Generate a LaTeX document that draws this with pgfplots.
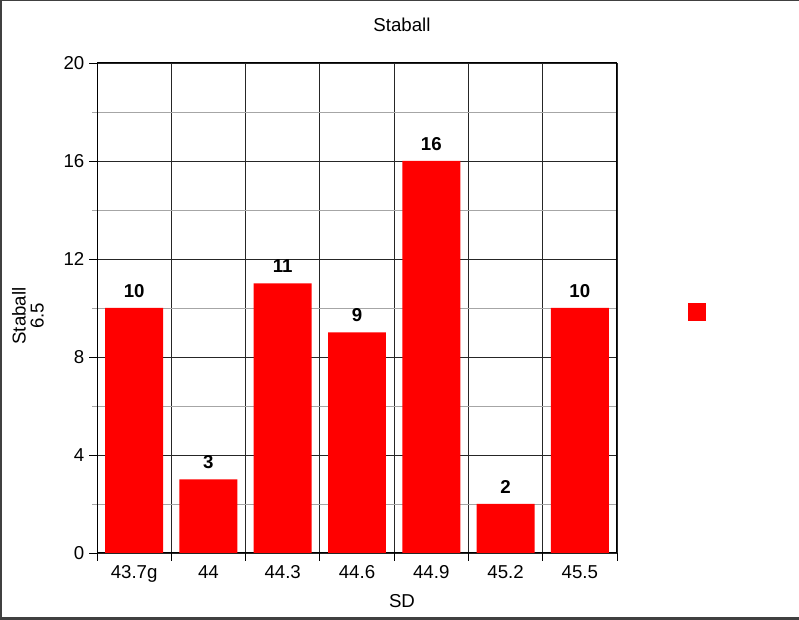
\documentclass[border=0pt]{standalone}
\usepackage{pgfplots}
\pgfplotsset{compat=1.18}
\usepackage{fontspec}
\setmainfont{Liberation Sans}
\definecolor{framegray}{HTML}{404040}
\begin{document}
\begin{tikzpicture}
\path[use as bounding box] (0,0) rectangle (599.25pt,465pt);
\fill[framegray] (0,0) rectangle (1.5pt,465pt);
\fill[framegray] (0,464.25pt) rectangle (599.25pt,465pt);
\fill[framegray] (0,0) rectangle (599.25pt,2.25pt);
\begin{axis}[
  at={(72.75pt,50.25pt)}, anchor=south west,
  width=390pt, height=367.5pt, scale only axis,
  xmin=-0.5, xmax=6.5, ymin=0, ymax=20,
  xtick={-0.5,0.5,1.5,2.5,3.5,4.5,5.5,6.5},
  x tick label as interval,
  xticklabels={43.7g,44,44.3,44.6,44.9,45.2,45.5},
  ytick={0,4,8,12,16,20}, minor y tick num=1,
  xtick pos=lower, ytick pos=left,
  tick align=outside, major tick length=6pt, minor tick length=3.75pt,
  xmajorgrids, ymajorgrids, yminorgrids,
  major grid style={black!85, line width=0.6pt},
  minor grid style={black!35, line width=0.6pt},
  axis line style={black, line width=0.75pt},
  major tick style={black, line width=0.6pt},
  minor tick style={black!35, line width=0.6pt},
  tick label style={font=\fontsize{14}{16}\selectfont, /pgf/number format/assume math mode=true},
  ybar, bar width=0.78,
  nodes near coords,
  nodes near coords style={font=\fontsize{14}{16}\selectfont\bfseries, black, yshift=4.5pt, /pgf/number format/assume math mode=true},
  legend image code/.code={\fill[red] (0pt,-6.75pt) rectangle (13.5pt,6.75pt);},
  legend style={draw=none, fill=none, inner sep=0pt, anchor=west, at={(1.1365,0.491)}},
]
\addplot[fill=red, draw=none] coordinates {(0,10) (1,3) (2,11) (3,9) (4,16) (5,2) (6,10)};
\addlegendentry{}
\end{axis}
\node[font=\fontsize{14}{16}\selectfont] at (301.5pt,446.25pt) {Staball};
\node[font=\fontsize{14}{16}\selectfont] at (301.5pt,14.25pt) {SD};
\node[font=\fontsize{14}{13.5}\selectfont, rotate=90, align=center] at (21pt,228pt) {Staball\\6.5};
\end{tikzpicture}
\end{document}
